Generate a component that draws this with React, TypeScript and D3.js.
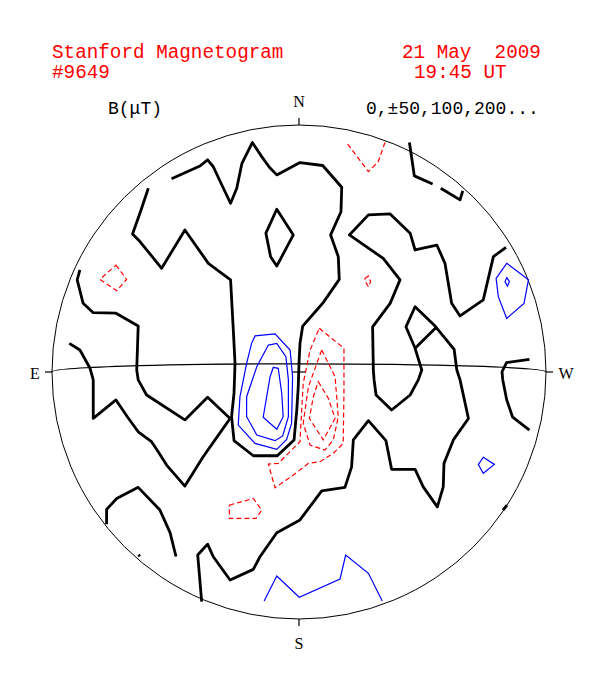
import React from "react";
import * as d3 from "d3";

const W = 604;
const H = 676;
const CX = 299;
const CY = 372;
const R = 247;

type Pt = [number, number];
type Contour = { closed: boolean; pts: Pt[] };

// Disk coordinates: percent of solar radius, x toward west (right), y toward north (up)
const zeroContours: Contour[] = [
  { closed: false, pts: [[-61.0,74.4],[-64.4,64.3],[-67.4,55.9],[-64.4,52.8],[-55.6,42.0],[-46.2,57.5],[-36.7,44.0],[-27.7,37.3],[-26.6,17.0],[-25.9,3.6],[-26.3,-8.5],[-27.3,-18.1],[-26.3,-27.8],[-18.5,-33.9],[-8.8,-33.9],[-2.0,-27.5],[-0.9,-15.4],[-0.3,-6.0],[0,3.5],[0.4,11.6],[1.5,18.6],[7.2,25.1],[9.8,28.1],[16.3,37.5],[15.9,46.7],[12.8,55.5],[17.0,64.9],[17.3,74.8],[9.6,83.6],[0.4,84.8],[-9.0,79.8],[-12.0,82.9],[-15.1,87.2],[-18.9,92.9],[-23.1,84.5],[-25.2,74.4],[-27.7,68.3],[-30.9,75.0],[-34.7,83.1],[-37.0,85.9],[-40.1,83.4],[-51.6,78.2]] },
  { closed: true, pts: [[-9.0,65.9],[-2.3,55.5],[-9.0,42.9],[-11.5,46.7],[-13.4,56.2]] },
  { closed: false, pts: [[-88.7,41.3],[-89.8,37.3],[-87.4,27.8],[-83.3,24.0],[-74.1,23.8],[-65.1,18.6],[-65.7,0.8],[-65.1,-3.2],[-61.7,-9.3],[-46.2,-19.4],[-37.0,-10.2],[-27.9,-18.8]] },
  { closed: false, pts: [[-93.0,11.6],[-88.7,8.9],[-84.6,1.5],[-83.3,-3.2],[-83.3,-18.8],[-74.1,-11.3],[-69.5,-18.1],[-65.1,-24.2],[-59.7,-28.2],[-57.0,-32.3],[-53.6,-37.7],[-46.2,-46.2],[-38.8,-34.3],[-34.0,-27.5],[-27.9,-18.8]] },
  { closed: false, pts: [[-77.9,-61.6],[-77.9,-55.6],[-73.8,-51.2],[-65.1,-46.7],[-56.3,-55.9],[-52.2,-65.0],[-49.8,-74.7]] },
  { closed: false, pts: [[-65.0,-74.0],[-64.4,-74.6]] },
  { closed: false, pts: [[-39.4,-93.0],[-41.0,-74.1],[-37.0,-69.7],[-34.7,-74.8],[-27.9,-84.2],[-18.5,-79.9],[-15.8,-74.8],[-9.0,-65.1],[0.4,-59.9],[9.2,-48.1],[18.6,-46.7],[21.3,-38.4],[22.0,-27.5],[28.1,-19.7],[35.2,-27.8],[37.5,-39.4],[47.0,-39.4],[50.3,-46.5],[56.0,-54.6],[58.4,-46.5],[58.7,-37.0],[62.5,-27.5],[68.6,-18.8],[65.2,-3.2],[63.9,0.8],[62.8,9.2],[55.1,18.6],[47.0,26.4],[43.3,18.3],[47.0,9.6],[49.7,0.8],[48.3,-3.2],[45.0,-9.3],[37.5,-15.4],[31.2,-9.3],[30.4,-3.2],[30.1,0.8],[29.8,18.3],[36.9,27.8],[40.9,37.3],[34.1,46.0],[20.4,55.5],[28.1,63.6],[36.9,64.0],[45.0,56.2],[47.0,49.4],[55.8,51.4],[59.1,44.0],[61.8,27.8],[65.2,22.7],[74.6,29.2],[78.7,46.7],[83.8,50.5]] },
  { closed: false, pts: [[47.0,9.6],[55.8,18.3]] },
  { closed: false, pts: [[44.7,92.9],[46.7,79.4],[54.1,76.1]] },
  { closed: false, pts: [[57.4,74.4],[65.2,69.7],[66.3,73.3]] },
  { closed: false, pts: [[93.3,5.1],[84.0,3.8],[82.2,0.1],[82.5,-3.2],[84.1,-11.3],[86.5,-18.3],[93.3,-23.5]] },
  { closed: false, pts: [[82.6,-55.9],[84.2,-53.9]] },
];

const positiveContours: Contour[] = [
  { closed: true, pts: [[-17.8,14.6],[-9.7,15.4],[-3.6,8.9],[-2.6,-1.9],[-3.0,-20.8],[-5.0,-27.3],[-9.0,-31.3],[-17.8,-28.9],[-24.6,-21.5],[-23.9,-10.0],[-21.2,3.5],[-19.2,11.6]] },
  { closed: true, pts: [[-12.4,10.9],[-9.0,11.6],[-5.3,6.2],[-4.3,-3.2],[-4.3,-18.1],[-6.6,-25.9],[-9.7,-27.8],[-17.1,-25.5],[-21.2,-18.1],[-21.2,-10.0],[-17.1,2.1]] },
  { closed: true, pts: [[-10.4,1.9],[-8.4,1.5],[-7.0,-8.6],[-6.4,-18.1],[-9.0,-23.2],[-14.5,-18.3],[-11.7,-1.9]] },
  { closed: true, pts: [[84.1,44.0],[92.9,37.3],[91.1,27.8],[84.1,21.7],[80.7,30.5],[79.8,37.9]] },
  { closed: true, pts: [[84.1,38.2],[85.2,36.6],[84.4,34.8],[83.4,36.6]] },
  { closed: true, pts: [[74.6,-34.5],[79.1,-37.4],[74.6,-41.0],[72.6,-37.5]] },
  { closed: false, pts: [[-14.1,-92.7],[-9.0,-82.6],[0.1,-91.2],[16.6,-83.8],[18.9,-74.1],[28.1,-81.5],[33.7,-92.7]] },
];

const negativeContours: Contour[] = [
  { closed: true, pts: [[8.2,17.7],[18.2,9.6],[18.2,-8.6],[17.9,-28.9],[13.9,-32.9],[8.5,-36.3],[3.8,-37.0],[-2.3,-41.7],[-9.7,-46.9],[-12.4,-37.3],[-8.4,-37.0],[0.4,-28.2],[1.1,-15.4],[1.7,-4.6],[4.5,8.9]] },
  { closed: true, pts: [[9.2,8.9],[14.6,-1.9],[15.9,-18.1],[13.9,-27.5],[10.5,-31.6],[4.5,-29.6],[1.7,-20.8],[3.8,-6.0]] },
  { closed: true, pts: [[7.8,-3.9],[11.9,-10.7],[14.6,-18.8],[9.8,-27.5],[4.2,-18.8],[5.8,-10.0]] },
  { closed: false, pts: [[19.7,92.3],[28.1,81.1],[32.1,85.2],[34.8,92.9]] },
  { closed: true, pts: [[26.7,37.9],[28.1,38.9],[29.0,36.6],[28.1,34.5],[27.1,36.2]] },
  { closed: true, pts: [[-74.1,43.3],[-69.8,37.5],[-73.8,32.9],[-80.6,37.5]] },
  { closed: true, pts: [[-28.2,-53.9],[-18.5,-51.2],[-15.1,-55.9],[-17.4,-59.3],[-28.2,-59.3]] },
];

const titleLeft = ["Stanford Magnetogram", "#9649"];
const titleRight = ["21 May  2009", "19:45 UT"];
const unitLabel = "B(\u03bcT)";
const levelLabel = "0,\u00b150,100,200...";
const b0Degrees = -1.9;

export default function App() {
  const x = d3.scaleLinear().domain([-100, 100]).range([CX - R, CX + R]);
  const y = d3.scaleLinear().domain([-100, 100]).range([CY + R, CY - R]);
  const open = d3.line<Pt>().x((d) => x(d[0])).y((d) => y(d[1]));
  const closed = d3.line<Pt>().x((d) => x(d[0])).y((d) => y(d[1])).curve(d3.curveLinearClosed);
  const path = (c: Contour) => (c.closed ? closed(c.pts) : open(c.pts)) || "";
  const ry = Math.abs(Math.sin((b0Degrees * Math.PI) / 180)) * R;
  const mono = "'Liberation Mono', 'Courier New', monospace";
  const serif = "'Liberation Serif', 'Times New Roman', serif";

  return (
    <svg width={W} height={H} style={{ position: "absolute", left: 0, top: 0, background: "#fff" }}>
      <rect x={0} y={0} width={W} height={H} fill="#fff" />
      <g fontFamily={mono} fontSize={19.3} fill="#ff0000">
        <text x={52} y={58}>{titleLeft[0]}</text>
        <text x={52} y={78}>{titleLeft[1]}</text>
        <text x={402} y={58} xmlSpace="preserve">{titleRight[0]}</text>
        <text x={414} y={78}>{titleRight[1]}</text>
      </g>
      <g fontFamily={mono} fontSize={18} fill="#000">
        <text x={108} y={114}>{unitLabel}</text>
        <text x={366} y={114}>{levelLabel}</text>
      </g>
      <g fontFamily={serif} fontSize={16} fill="#000" textAnchor="middle">
        <text x={CX} y={107}>N</text>
        <text x={35} y={379}>E</text>
        <text x={566} y={379}>W</text>
        <text x={CX} y={649}>S</text>
      </g>
      <circle cx={CX} cy={CY} r={R} fill="none" stroke="#000" strokeWidth={1} />
      <path d={`M ${CX - R} ${CY} A ${R} ${ry} 0 0 1 ${CX + R} ${CY}`} fill="none" stroke="#000" strokeWidth={1.3} />
      <g stroke="#000" strokeWidth={1.2}>
        <line x1={CX - R - 7} y1={CY} x2={CX - R} y2={CY} />
        <line x1={CX + R} y1={CY} x2={CX + R + 7} y2={CY} />
        <line x1={CX} y1={CY - R - 7} x2={CX} y2={CY - R} />
        <line x1={CX} y1={CY + R} x2={CX} y2={CY + R + 7} />
        <line x1={CX - 7} y1={CY} x2={CX + 7} y2={CY} />
        <line x1={CX} y1={CY - 7} x2={CX} y2={CY + 7} />
      </g>
      <g fill="none" stroke="#ff0000" strokeWidth={1.2} strokeDasharray="5,3">
        {negativeContours.map((c, i) => (
          <path key={i} d={path(c)} />
        ))}
      </g>
      <g fill="none" stroke="#0000ff" strokeWidth={1.2}>
        {positiveContours.map((c, i) => (
          <path key={i} d={path(c)} />
        ))}
      </g>
      <g fill="none" stroke="#000" strokeWidth={2.8} strokeLinejoin="round">
        {zeroContours.map((c, i) => (
          <path key={i} d={path(c)} />
        ))}
      </g>
    </svg>
  );
}
